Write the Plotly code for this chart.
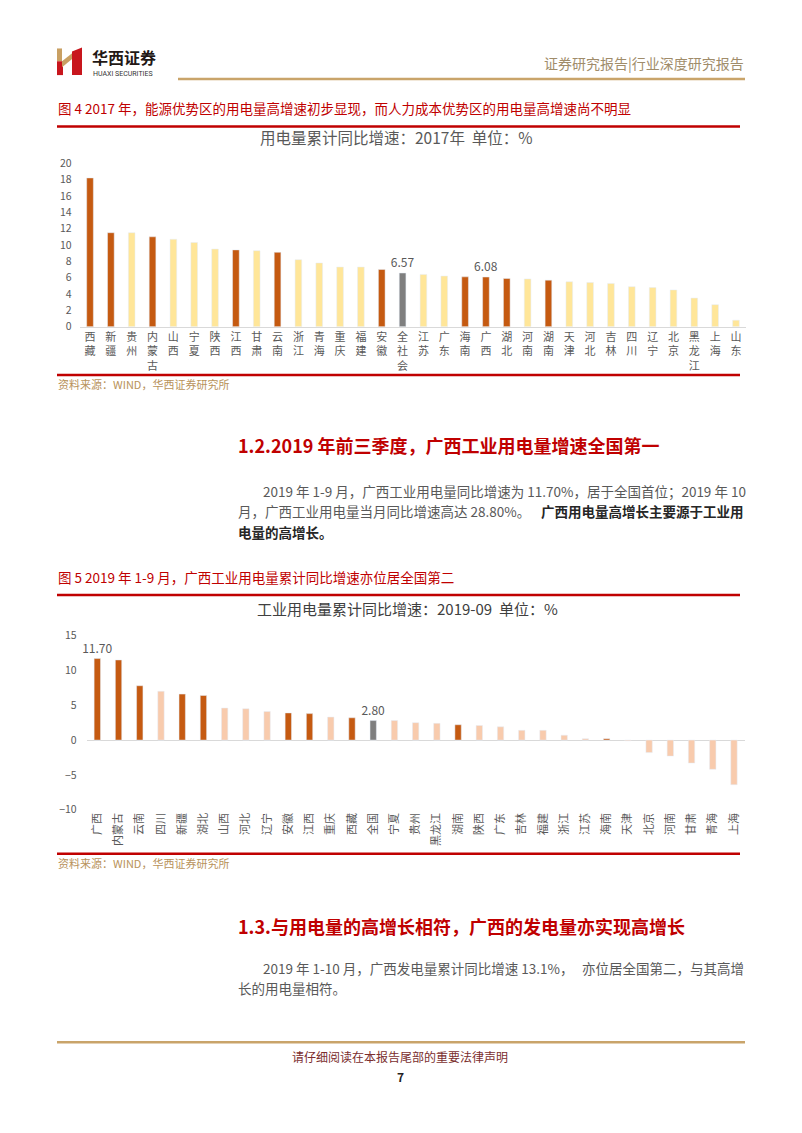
import plotly.graph_objects as go

# ---------------- data ----------------
cats1 = ["西藏", "新疆", "贵州", "内蒙古", "山西", "宁夏", "陕西", "江西", "甘肃", "云南",
         "浙江", "青海", "重庆", "福建", "安徽", "全社会", "江苏", "广东", "海南", "广西",
         "湖北", "河南", "湖南", "天津", "河北", "吉林", "四川", "辽宁", "北京", "黑龙江",
         "上海", "山东"]
vals1 = [18.2, 11.5, 11.5, 11.0, 10.7, 10.3, 9.5, 9.4, 9.3, 9.1,
         8.2, 7.8, 7.3, 7.3, 7.0, 6.57, 6.4, 6.2, 6.1, 6.08,
         5.9, 5.85, 5.7, 5.5, 5.4, 5.3, 4.9, 4.8, 4.5, 3.5,
         2.7, 0.8]
labeled1 = ["全社会", "广西"]

cats2 = ["广西", "内蒙古", "云南", "四川", "新疆", "湖北", "山西", "河北", "辽宁", "安徽",
         "江西", "重庆", "西藏", "全国", "宁夏", "贵州", "黑龙江", "湖南", "陕西", "广东",
         "吉林", "福建", "浙江", "江苏", "海南", "天津", "北京", "河南", "甘肃", "青海", "上海"]
vals2 = [11.70, 11.5, 7.8, 7.0, 6.6, 6.4, 4.6, 4.5, 4.1, 3.9,
         3.8, 3.3, 3.2, 2.80, 2.8, 2.5, 2.4, 2.2, 2.1, 1.9,
         1.4, 1.4, 0.7, 0.2, 0.2, -0.1, -1.8, -2.3, -3.3, -4.2, -6.4]
labeled2 = ["广西", "全国"]

energy_regions = ["西藏", "新疆", "内蒙古", "江西", "云南", "安徽", "海南", "广西", "湖北", "湖南"]
national = ["全社会", "全国"]

y1_ticks = [0, 2, 4, 6, 8, 10, 12, 14, 16, 18, 20]
y2_ticks = [-10, -5, 0, 5, 10, 15]

# ---------------- styles ----------------
DARK = "#C55A11"
LIGHT1 = "#FFE699"
LIGHT2 = "#F8CBAD"
GRAY = "#7F7F7F"
TXT = "#595959"
RED = "#C00000"
GOLD = "#C9A46A"
FONT = "Noto Sans CJK SC"

W, H = 802, 1133
X = lambda px: px / W
Y = lambda py: 1 - py / H


def colors(cats, light):
    out = []
    for c in cats:
        if c in national:
            out.append(GRAY)
        elif c in energy_regions:
            out.append(DARK)
        else:
            out.append(light)
    return out


fig = go.Figure()

fig.add_trace(go.Bar(
    x=cats1, y=vals1, marker_color=colors(cats1, LIGHT1), width=0.32,
    text=[f"{v:.2f}" if c in labeled1 else "" for c, v in zip(cats1, vals1)],
    textposition="outside", constraintext="none", cliponaxis=False,
    textfont=dict(size=12, color=TXT, family=FONT),
    xaxis="x", yaxis="y", showlegend=False, hoverinfo="x+y"))

fig.add_trace(go.Bar(
    x=cats2, y=vals2, marker_color=colors(cats2, LIGHT2), width=0.3,
    text=[f"{v:.2f}" if c in labeled2 else "" for c, v in zip(cats2, vals2)],
    textposition="outside", constraintext="none", cliponaxis=False,
    textfont=dict(size=12, color=TXT, family=FONT),
    xaxis="x2", yaxis="y2", showlegend=False, hoverinfo="x+y"))

tickfont = dict(size=11, color=TXT, family=FONT)

fig.update_layout(
    width=W, height=H, margin=dict(l=0, r=0, t=0, b=0), autosize=False,
    paper_bgcolor="white", plot_bgcolor="white",
    font=dict(family=FONT, color=TXT),
    bargap=0.5,
    xaxis=dict(domain=[X(79.6), X(746.4)], anchor="y", type="category",
               tickvals=cats1, ticktext=["<br>".join(c) for c in cats1],
               tickangle=0, tickfont=tickfont, showgrid=False, zeroline=False,
               showline=True, linecolor="#D9D9D9", linewidth=1, ticks=""),
    yaxis=dict(domain=[Y(323), Y(157.3)], anchor="x", range=[0, 20],
               tickvals=y1_ticks, tickfont=dict(size=10.5, color=TXT, family=FONT),
               showgrid=False, zeroline=False, showline=False, ticks="",
               ticklabelstandoff=7),
    xaxis2=dict(domain=[X(86.7), X(744.6)], anchor="y2", type="category",
                tickangle=-90, tickfont=tickfont, showgrid=False, zeroline=False,
                showline=False, ticks=""),
    yaxis2=dict(domain=[Y(812.5), Y(636)], anchor="x2", range=[-10, 15],
                tickvals=y2_ticks, tickfont=dict(size=10.5, color=TXT, family=FONT),
                showgrid=False, zeroline=True, zerolinecolor="#D9D9D9", zerolinewidth=1,
                showline=False, ticks="", ticklabelstandoff=9),
)

shapes = []
annos = []


def hline(y, x0, x1, color, width):
    shapes.append(dict(type="line", xref="paper", yref="paper", x0=X(x0), x1=X(x1),
                       y0=Y(y), y1=Y(y), line=dict(color=color, width=width)))


def text(x, y, s, size, color, anchor="left", bold=False, family=FONT):
    if bold:
        s = f"<b>{s}</b>"
    annos.append(dict(xref="paper", yref="paper", x=X(x), y=Y(y), text=s, showarrow=False,
                      xanchor=anchor, yanchor="middle", borderpad=0,
                      font=dict(size=size, color=color, family=family)))


# header logo
def rect(x0, y0, x1, y1, color):
    shapes.append(dict(type="rect", xref="paper", yref="paper", x0=X(x0), x1=X(x1),
                       y0=Y(y0), y1=Y(y1), fillcolor=color, line=dict(width=0)))


rect(57, 41, 62, 54, "#C9A063")
rect(57, 54, 63, 68, "#C8161D")
shapes.append(dict(type="path", xref="paper", yref="paper",
                   path=f"M {X(62)},{Y(54)} L {X(62)},{Y(60)} L {X(73)},{Y(51)} L {X(73)},{Y(45)} Z",
                   fillcolor="#C9A063", line=dict(width=0)))
shapes.append(dict(type="path", xref="paper", yref="paper",
                   path=f"M {X(72)},{Y(44)} L {X(82)},{Y(40)} L {X(82)},{Y(68)} L {X(72)},{Y(68)} Z",
                   fillcolor="#C8161D", line=dict(width=0)))
text(91, 50, "华西证券", 16, "#231815", bold=True)
text(92, 67, "HUAXI SECURITIES", 7, "#333333", family="Roboto")
text(745, 56, "证券研究报告|行业深度研究报告", 14, "#A08C6A", anchor="right")
hline(72, 178, 745, GOLD, 2.5)

# figure 4
text(57, 101, "图 4 2017 年，能源优势区的用电量高增速初步显现，而人力成本优势区的用电量高增速尚不明显", 13.5, RED)
hline(120, 57, 740, RED, 2.5)
text(396, 131, "用电量累计同比增速：2017年  单位：%", 15.5, TXT, anchor="center")
hline(372, 57, 740, RED, 2.5)
text(57, 381, "资料来源：WIND，华西证券研究所", 11, "#B8925A")

# section 1.2
text(237, 443, "1.2.2019 年前三季度，广西工业用电量增速全国第一", 18, RED, bold=True)
text(262, 489, "2019 年 1-9 月，广西工业用电量同比增速为 11.70%，居于全国首位；2019 年 10", 13.5, TXT)
text(237, 510, "月，广西工业用电量当月同比增速高达 28.80%。", 13.5, TXT)
text(745, 510, "广西用电量高增长主要源于工业用", 13.5, "#262626", anchor="right", bold=True)
text(237, 531, "电量的高增长。", 13.5, "#262626", bold=True)

# figure 5
text(57, 577, "图 5 2019 年 1-9 月，广西工业用电量累计同比增速亦位居全国第二", 13.5, RED)
hline(595, 57, 740, RED, 2.5)
text(407, 609, "工业用电量累计同比增速：2019-09  单位：%", 15, "#404040", anchor="center")
hline(857, 57, 740, RED, 2.5)
text(57, 866, "资料来源：WIND，华西证券研究所", 11, "#B8925A")

# section 1.3
text(237, 930, "1.3.与用电量的高增长相符，广西的发电量亦实现高增长", 18, RED, bold=True)
text(262, 973, "2019 年 1-10 月，广西发电量累计同比增速 13.1%，", 13.5, TXT)
text(745, 973, "亦位居全国第二，与其高增", 13.5, TXT, anchor="right")
text(237, 993, "长的用电量相符。", 13.5, TXT)

# footer
hline(1048, 57, 745, GOLD, 2.5)
text(400, 1063, "请仔细阅读在本报告尾部的重要法律声明", 12, "#7B2E2E", anchor="center")
text(400, 1083, "7", 12, "#222222", anchor="center", bold=True)

fig.update_layout(shapes=shapes, annotations=annos)
fig.write_html("out.html")
